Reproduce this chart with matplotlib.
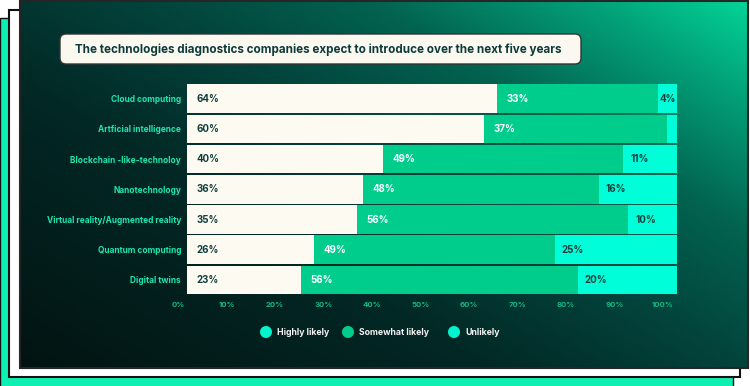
import numpy as np
import matplotlib.pyplot as plt
from matplotlib.patches import Rectangle, FancyBboxPatch, Circle
from matplotlib.colors import LinearSegmentedColormap

plt.rcParams['font.family'] = ['Inter', 'DejaVu Sans']

categories = ["Cloud computing", "Artficial intelligence", "Blockchain -like-technoloy",
              "Nanotechnology", "Virtual reality/Augmented reality", "Quantum computing",
              "Digital twins"]
highly = np.array([64, 60, 40, 36, 35, 26, 23])
somewhat = np.array([33, 37, 49, 48, 56, 49, 56])
unlikely = np.array([4, 2, 11, 16, 10, 25, 20])
tick_values = list(range(0, 101, 10))
tick_labels = [f"{t}%" for t in tick_values]
legend_labels = ["Highly likely", "Somewhat likely", "Unlikely"]
legend_colors = ["#00f5cf", "#00cc8c", "#00f5cf"]
title = "The technologies diagnostics companies expect to introduce over the next five years"

W, H = 750, 386
fig = plt.figure(figsize=(W / 100, H / 100), dpi=100, facecolor='white')

# background layer in pixel coordinates
bg = fig.add_axes([0, 0, 1, 1])
bg.set_xlim(0, W)
bg.set_ylim(H, 0)
bg.axis('off')

bg.add_patch(Rectangle((0, 18), 733, 380, fc='#0ef0b2', ec='#111111', lw=1, zorder=1))
bg.add_patch(Rectangle((9, 10), 731, 367, fc='white', ec='#111111', lw=1.5, zorder=2))

# gradient panel
gx, gy = np.meshgrid(np.linspace(0, 1, 300), np.linspace(0, 1, 150))
t = (gx * 0.55 + (1 - gy) * 0.45)
cmap = LinearSegmentedColormap.from_list('panel', [
    (0.0, '#021412'), (0.35, '#022825'), (0.55, '#02443c'),
    (0.72, '#026450'), (0.88, '#02a078'), (1.0, '#03d396')])
bg.imshow(t, cmap=cmap, extent=(20, 748, 368, 1), aspect='auto', origin='upper',
          vmin=0, vmax=1, interpolation='bilinear', zorder=3)
bg.add_patch(Rectangle((20, 1), 728, 367, fill=False, ec='#262626', lw=1.5, zorder=4))
bg.set_xlim(0, W)
bg.set_ylim(H, 0)

# title box
bg.add_patch(FancyBboxPatch((60, 34), 521, 30, boxstyle='round,pad=0,rounding_size=6',
                            fc='#fbf9ef', ec='#333333', lw=1, zorder=5))
bg.text(75, 49.5, title, ha='left', va='center', fontsize=8.4, fontweight='bold',
        color='#0d3a3a', zorder=6)

# legend
for i, (lab, col) in enumerate(zip(legend_labels, legend_colors)):
    cx = [266, 348, 454][i]
    bg.add_patch(Circle((cx, 332), 6, fc=col, ec='none', zorder=5))
    bg.text(cx + 11, 332.5, lab, ha='left', va='center', fontsize=6.3,
            fontweight='bold', color='#f2f2f2', zorder=6)

# bars
tot = highly + somewhat + unlikely
hn = highly / tot * 100
sn = somewhat / tot * 100
un = unlikely / tot * 100
y = np.arange(len(categories))

ax = fig.add_axes([187 / W, 1 - 294.3 / H, 490 / W, 210 / H])
ax.patch.set_alpha(0)
h = 0.951
ax.barh(y, hn, height=h, color='#fcfaf1')
ax.barh(y, sn, left=hn, height=h, color='#00cc8c')
ax.barh(y, un, left=hn + sn, height=h, color='#00ffd8')
ax.set_xlim(0, 100)
ax.set_ylim(len(categories) - 1 + h / 2, -h / 2)
ax.set_yticks(y, categories, fontsize=6.0, fontweight='bold', color='#1de6b2')
ax.tick_params(axis='y', length=0, pad=4.3)
ax.set_xticks([])
for s in ax.spines.values():
    s.set_visible(False)

for i in y:
    ax.annotate(f"{highly[i]}%", xy=(0, i), xytext=(6.8, 0), textcoords='offset points',
                ha='left', va='center', fontsize=7, fontweight='bold', color='#123f3d')
    ax.annotate(f"{somewhat[i]}%", xy=(hn[i], i), xytext=(6.8, 0), textcoords='offset points',
                ha='left', va='center', fontsize=7, fontweight='bold', color='white')
    if unlikely[i] >= 4:
        if unlikely[i] < 6:
            ax.annotate(f"{unlikely[i]}%", xy=(hn[i] + sn[i] + un[i] / 2, i),
                        ha='center', va='center', fontsize=7, fontweight='bold',
                        color='#123f3d')
        else:
            ax.annotate(f"{unlikely[i]}%", xy=(hn[i] + sn[i], i), xytext=(5, 0),
                        textcoords='offset points', ha='left', va='center', fontsize=7,
                        fontweight='bold', color='#123f3d')

# percentage scale
tx = fig.add_axes([178 / W, 1 - 294.3 / H, 485 / W, 0.001])
tx.patch.set_alpha(0)
tx.set_xlim(0, 100)
tx.set_xticks(tick_values, tick_labels, fontsize=5.6, fontweight='bold', color='#0fb884')
tx.tick_params(axis='x', length=0, pad=5.5)
tx.set_yticks([])
for s in tx.spines.values():
    s.set_visible(False)

fig.savefig('out.png', dpi=100, facecolor='white')
